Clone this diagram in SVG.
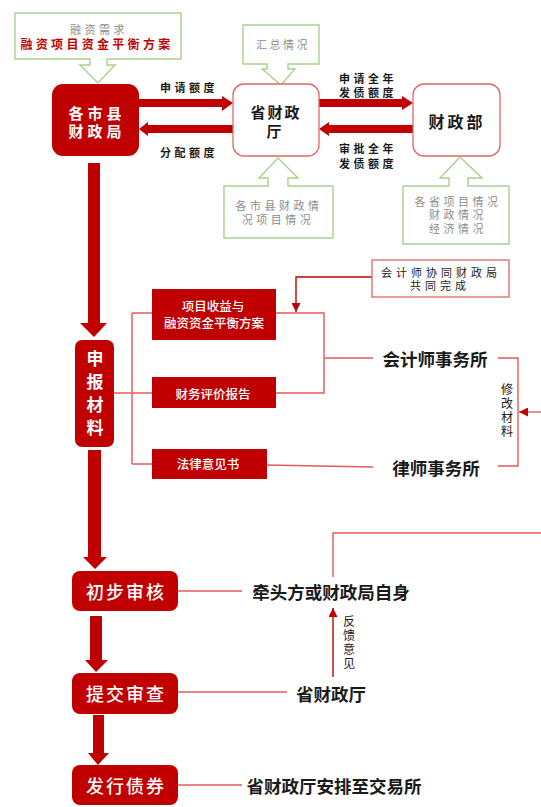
<svg xmlns="http://www.w3.org/2000/svg" width="541" height="807" viewBox="0 0 541 807">
<defs>
<marker id="tri" viewBox="0 0 10 10" refX="10" refY="5" markerWidth="9" markerHeight="9" markerUnits="userSpaceOnUse" orient="auto">
<path d="M0,0 L10,5 L0,10 Z" fill="#c00000"/>
</marker>
</defs>
<style>
text{font-family:"Noto Sans CJK SC","Noto Sans",sans-serif;text-anchor:middle;dominant-baseline:central}
.red{fill:#c00000}
.wbox{fill:#fff;stroke:#e06666;stroke-width:1.3}
.call{fill:#fff;stroke:#a9d18e;stroke-width:1.4}
.g{fill:#8c8c8c;font-size:11px;letter-spacing:3.5px}
.lbl{fill:#1a1a1a;font-size:11px;font-weight:bold;letter-spacing:3.5px}
.wt{fill:#fff;font-weight:bold}
.bt{fill:#1a1a1a;font-weight:bold;font-size:17.5px}
.ln{fill:none;stroke:#e35a5a;stroke-width:1.4}
.dk{fill:none;stroke:#c00000;stroke-width:1.4}
.sm{fill:#fff;font-size:12.5px;font-weight:500}
.vt{fill:#1a1a1a;font-size:12px}
</style>

<g id="connectors">
<path class="red" d="M139,99 H222 V96 L233,103 L222,111 V107 H139 Z"/>
<path class="red" d="M233,125 H148 V122 L139,129 L148,136 V133 H233 Z"/>
<path class="red" d="M319,99 H402 V96 L413,103 L402,110 V107 H319 Z"/>
<path class="red" d="M413,125 H329 V122 L319,129 L329,136 V133 H413 Z"/>
<path class="red" d="M88,163 H100 V323 H107 L94,337 L80,323 H88 Z"/>
<path class="red" d="M88,450 H101 V557 H107 L95,569 L83,557 H88 Z"/>
<path class="red" d="M90,616 H102 V660 H108 L96,672 L85,660 H90 Z"/>
<path class="red" d="M93,715 H104 V753 H109 L98,765 L88,753 H93 Z"/>
<path class="ln" d="M114,393 H132 M132,313 V464 M132,313 H152 M132,393 H152 M132,464 H152"/>
<path class="ln" d="M276,313 H324 V393 H276 M324,358 H373"/>
<path class="ln" d="M267,465 L373,467"/>
<path class="dk" d="M372,277 H296 V312" marker-end="url(#tri)"/>
<path class="ln" d="M498,358 H518 V466 H498"/>
<path class="ln" d="M541,412 H519" marker-end="url(#tri)"/>
<path class="ln" d="M178,591 H242"/>
<path class="ln" d="M178,692 H287"/>
<path class="dk" d="M333,677 V608" marker-end="url(#tri)"/>
<path class="ln" d="M333,577 V533 H541"/>
<path class="ln" d="M178,785 H242"/>
</g>

<g id="callout-need">
<path class="call" d="M15,13 H181 V59 H107 V65 H115 L98,83 L80,65 H90 V59 H15 Z"/>
<text x="99" y="29"><tspan class="g">融资需求</tspan><tspan x="97" y="43" style="fill:#c00000;font-size:12px;font-weight:bold;letter-spacing:3.3px">融资项目资金平衡方案</tspan></text>
</g>

<g id="callout-summary">
<path class="call" d="M243,25 H319 V64 H288 V69 H295 L281,85 L262,69 H267 V64 H243 Z"/>
<text class="g" x="283" y="44" style="letter-spacing:2.5px">汇总情况</text>
</g>

<g id="node-county">
<rect class="red" x="52" y="84" width="87" height="72" rx="11"/>
<text class="wt" x="97" y="112" style="font-size:15px;letter-spacing:4px">各市县<tspan x="97" y="130">财政局</tspan></text>
</g>

<g id="node-province">
<rect class="wbox" x="233" y="84" width="86" height="72" rx="11"/>
<text x="276" y="111" style="fill:#1a1a1a;font-size:15px;font-weight:bold;letter-spacing:2px">省财政<tspan x="275" y="130">厅</tspan></text>
</g>

<g id="node-mof">
<rect class="wbox" x="413" y="84" width="87" height="72" rx="11"/>
<text x="457" y="121" style="fill:#1a1a1a;font-size:16px;font-weight:bold;letter-spacing:3px">财政部</text>
</g>

<g id="labels-top">
<text class="lbl" x="189" y="87">申请额度</text>
<text class="lbl" x="189" y="152">分配额度</text>
<text class="lbl" x="368" y="78">申请全年<tspan x="368" y="92">发债额度</tspan></text>
<text class="lbl" x="368" y="148">审批全年<tspan x="368" y="163">发债额度</tspan></text>
</g>

<g id="callout-county-info">
<path class="call" d="M224,186 H268 V178 H259 L278,158 L298,178 H288 V186 H333 V238 H224 Z"/>
<text class="g" x="279" y="205">各市县财政情<tspan x="278" y="219">况项目情况</tspan></text>
</g>

<g id="callout-province-info">
<path class="call" d="M403,186 H449 V178 H440 L460,157 L482,178 H468 V186 H509 V244 H403 Z"/>
<text class="g" x="458" y="201">各省项目情况<tspan x="458" y="214">财政情况</tspan><tspan x="458" y="228">经济情况</tspan></text>
</g>

<g id="node-materials">
<rect class="red" x="75" y="340" width="39" height="107" rx="7"/>
<text class="wt" x="95" y="357" style="font-size:17px">申<tspan x="95" y="380">报</tspan><tspan x="95" y="403">材</tspan><tspan x="95" y="426">料</tspan></text>
</g>

<g id="node-plan">
<rect class="red" x="152" y="289" width="124" height="51"/>
<text class="sm" x="213" y="305">项目收益与<tspan x="214" y="322">融资资金平衡方案</tspan></text>
</g>

<g id="node-report">
<rect class="red" x="152" y="377" width="124" height="31"/>
<text class="sm" x="213" y="393">财务评价报告</text>
</g>

<g id="node-legal">
<rect class="red" x="152" y="449" width="115" height="30"/>
<text class="sm" x="208" y="463">法律意见书</text>
</g>

<g id="node-coop">
<rect class="wbox" x="372" y="260" width="137" height="37"/>
<text class="lbl" x="441" y="272" style="font-weight:normal;letter-spacing:4px">会计师协同财政局<tspan x="440" y="285">共同完成</tspan></text>
</g>

<g id="node-accountant">
<text class="bt" x="435" y="358">会计师事务所</text>
</g>

<g id="node-lawyer">
<text class="bt" x="436" y="467">律师事务所</text>
</g>

<g id="label-modify">
<text class="vt" x="507" y="388">修<tspan x="507" y="402">改</tspan><tspan x="507" y="416">材</tspan><tspan x="507" y="430">料</tspan></text>
</g>

<g id="node-initial">
<rect class="red" x="72" y="571" width="106" height="40" rx="8"/>
<text class="wt" x="126" y="591" style="font-size:18px;font-weight:500;letter-spacing:2px">初步审核</text>
</g>

<g id="node-lead">
<text class="bt" x="331" y="591">牵头方或财政局自身</text>
</g>

<g id="node-submit">
<rect class="red" x="72" y="673" width="106" height="41" rx="8"/>
<text class="wt" x="126" y="693" style="font-size:18px;font-weight:500;letter-spacing:2px">提交审查</text>
</g>

<g id="node-province2">
<text class="bt" x="331" y="693">省财政厅</text>
</g>

<g id="label-feedback">
<text class="vt" x="349" y="620">反<tspan x="349" y="634">馈</tspan><tspan x="349" y="648">意</tspan><tspan x="349" y="662">见</tspan></text>
</g>

<g id="node-issue">
<rect class="red" x="72" y="765" width="106" height="40" rx="8"/>
<text class="wt" x="126" y="785" style="font-size:18px;font-weight:500;letter-spacing:2px">发行债券</text>
</g>

<g id="node-exchange">
<text class="bt" x="334" y="785">省财政厅安排至交易所</text>
</g>
</svg>
